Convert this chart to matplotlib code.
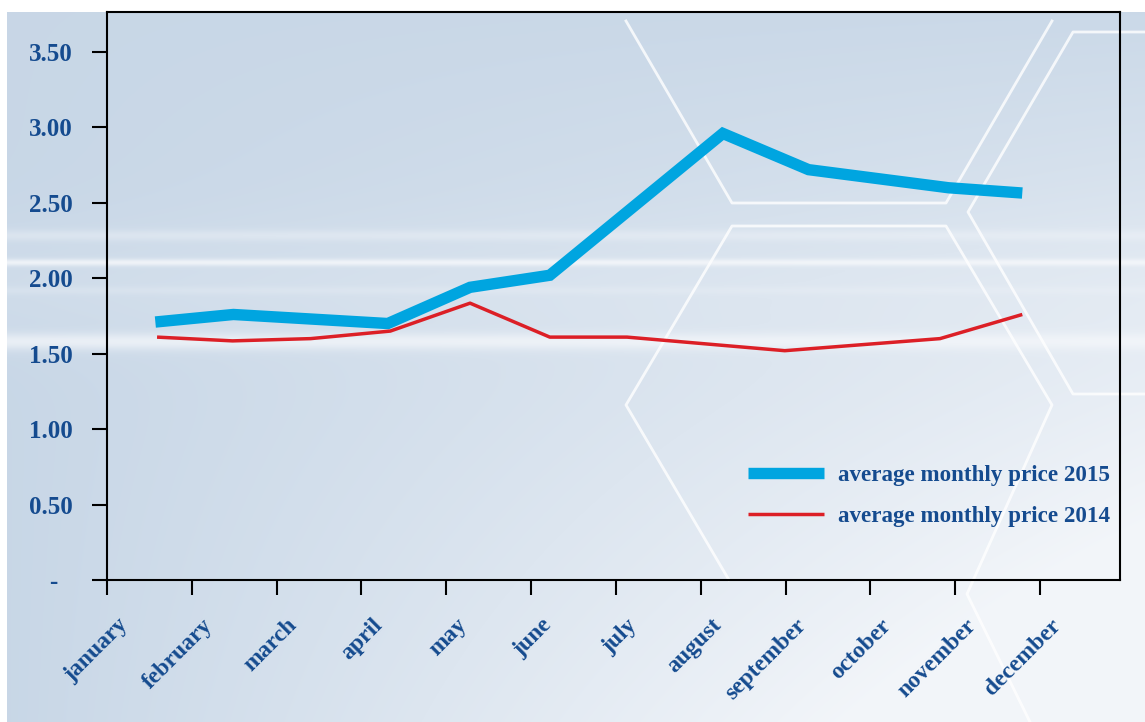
import numpy as np
import matplotlib
matplotlib.use("Agg")
from matplotlib import pyplot as plt
from matplotlib.transforms import ScaledTranslation

# data (x in month-tick units, 0 = january tick)
months = ["january", "february", "march", "april", "may", "june",
          "july", "august", "september", "october", "november", "december"]
x_2015 = [0.57, 1.49, 3.31, 4.28, 5.22, 7.26, 8.27, 9.92, 10.79]
price_2015 = [1.71, 1.76, 1.70, 1.94, 2.02, 2.96, 2.72, 2.60, 2.565]
x_2014 = [0.59, 1.48, 2.40, 3.34, 4.28, 5.22, 6.13, 7.99, 9.82, 10.79]
price_2014 = [1.61, 1.585, 1.60, 1.65, 1.835, 1.61, 1.61, 1.52, 1.60, 1.76]
yticks = [0, 0.5, 1.0, 1.5, 2.0, 2.5, 3.0, 3.5]
labels = ["average monthly price 2015", "average monthly price 2014"]

text_col = "#154b8f"
blue = "#00a5e0"
red = "#dc1f26"
serif = "Liberation Serif"

fig = plt.figure(figsize=(11.45, 7.22), dpi=100)

# background panel: blue-grey gradient with light streaks
H, W = 710, 1138
yy, xx = np.mgrid[0:H, 0:W]
xf = xx / W
yf = yy / H
w = np.clip(1.1 * xf * (0.05 + 1.0 * yf) + 0.08, 0, 0.92)
ypx = yy + 12
for c, s, a in [(285, 45, 0.15), (235, 4, 0.35), (262, 2.5, 0.8),
                (290, 3, 0.2), (341, 6, 0.7)]:
    w = w + a * np.exp(-0.5 * ((ypx - c) / s) ** 2) * (1 - w)
w = np.clip(w, 0, 1)
dark = np.array([196, 212, 229]) / 255
light = np.array([246, 248, 251]) / 255
img = dark[None, None, :] * (1 - w[..., None]) + light[None, None, :] * w[..., None]

bg = fig.add_axes([7 / 1145, 0, 1 - 7 / 1145, 710 / 722], zorder=0)
bg.imshow(img, aspect="auto", interpolation="bilinear")
bg.axis("off")

# hexagon outlines (decoration, pixel coords)
deco = fig.add_axes([0, 0, 1, 1], zorder=0.5)
deco.set_xlim(0, 1145)
deco.set_ylim(722, 0)
deco.axis("off")
deco.patch.set_alpha(0)
hexes = [
    [(626, 21), (732, 203), (946, 203), (1052, 21)],
    [(729, 580), (626, 405), (732, 226), (946, 226), (1052, 405), (967, 594), (1030, 722)],
    [(1145, 32), (1073, 32), (968, 212), (1073, 394), (1145, 394)],
]
for h in hexes:
    hx, hy = zip(*h)
    deco.plot(hx, hy, color="white", lw=2, alpha=0.8)

ax = fig.add_axes([107 / 1145, (722 - 580) / 722, (1119.5 - 107) / 1145, (580 - 12) / 722], zorder=1)
ax.patch.set_alpha(0)

ax.plot(x_2015, price_2015, color=blue, lw=8.2, solid_capstyle="butt",
        solid_joinstyle="miter", label=labels[0])
ax.plot(x_2014, price_2014, color=red, lw=2.5, solid_capstyle="butt",
        label=labels[1])

ax.set_xlim(0, 11.936)
ax.set_ylim(0, 3.765)

ax.set_yticks(yticks)
ax.set_yticklabels(["-" if v == 0 else "%.2f" % v for v in yticks],
                   fontsize=18, fontweight="bold", color=text_col, family=serif)
ax.set_xticks(range(len(months)))
ax.set_xticklabels(months, rotation=45, ha="right", va="top",
                   fontsize=17, fontweight="bold", color=text_col, family=serif)
ax.tick_params(axis="y", length=11, width=1.5, pad=13.5, direction="out")
ax.tick_params(axis="x", length=11, width=1.5, pad=14, direction="out")

off = ScaledTranslation(0.25, 0, fig.dpi_scale_trans)
for lab in ax.get_xticklabels():
    lab.set_transform(lab.get_transform() + off)
zero_lab = ax.get_yticklabels()[0]
zero_lab.set_transform(zero_lab.get_transform() + ScaledTranslation(-0.16, 0, fig.dpi_scale_trans))

for sp in ax.spines.values():
    sp.set_linewidth(1.5)
    sp.set_color("black")

ax.legend(loc="upper left", bbox_to_anchor=(0.633, 0.203), frameon=False,
          borderpad=0, borderaxespad=0, handlelength=3.3, handletextpad=0.62,
          labelspacing=0.85, labelcolor=text_col,
          prop={"family": serif, "weight": "bold", "size": 16.6})

fig.savefig("out.png", dpi=100)
